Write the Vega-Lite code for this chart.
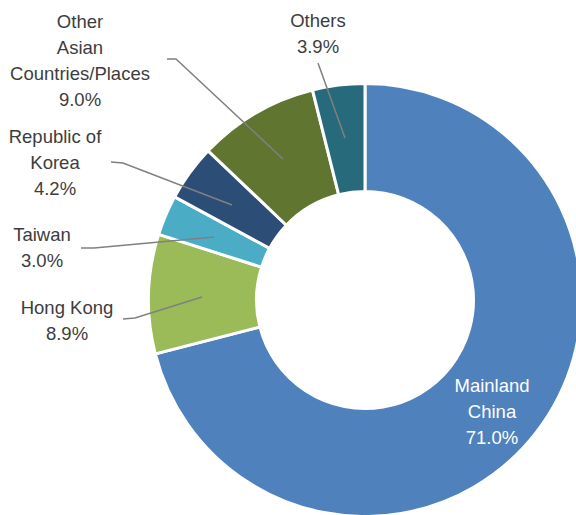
{
  "$schema": "https://vega.github.io/schema/vega-lite/v6.json",
  "width": 576,
  "height": 515,
  "autosize": {"type": "none"},
  "padding": 0,
  "background": "white",
  "config": {"view": {"stroke": null}, "font": "Liberation Sans"},
  "datasets": {
    "slices": [
      {"name": "Mainland China", "value": 71.0, "order": 1, "label": "Mainland\nChina\n71.0%", "lx": 127, "ly": -86},
      {"name": "Hong Kong", "value": 8.9, "order": 2, "label": "Hong Kong\n8.9%", "lx": -298, "ly": -8},
      {"name": "Taiwan", "value": 3.0, "order": 3, "label": "Taiwan\n3.0%", "lx": -323, "ly": 65},
      {"name": "Republic of Korea", "value": 4.2, "order": 4, "label": "Republic of\nKorea\n4.2%", "lx": -310, "ly": 163},
      {"name": "Other Asian Countries/Places", "value": 9.0, "order": 5, "label": "Other\nAsian\nCountries/Places\n9.0%", "lx": -285, "ly": 278},
      {"name": "Others", "value": 3.9, "order": 6, "label": "Others\n3.9%", "lx": -47, "ly": 279}
    ],
    "leaders": [
      {"id": "Others", "seq": 1, "x": -47, "y": 237},
      {"id": "Others", "seq": 2, "x": -20, "y": 162},
      {"id": "Other Asian", "seq": 1, "x": -198, "y": 241},
      {"id": "Other Asian", "seq": 2, "x": -189, "y": 241},
      {"id": "Other Asian", "seq": 3, "x": -82, "y": 141},
      {"id": "Korea", "seq": 1, "x": -254, "y": 138},
      {"id": "Korea", "seq": 2, "x": -242, "y": 137},
      {"id": "Korea", "seq": 3, "x": -133, "y": 95},
      {"id": "Taiwan", "seq": 1, "x": -284, "y": 52},
      {"id": "Taiwan", "seq": 2, "x": -271, "y": 52},
      {"id": "Taiwan", "seq": 3, "x": -151, "y": 63},
      {"id": "Hong Kong", "seq": 1, "x": -242, "y": -19},
      {"id": "Hong Kong", "seq": 2, "x": -230, "y": -18},
      {"id": "Hong Kong", "seq": 3, "x": -163, "y": 3}
    ]
  },
  "layer": [
    {
      "data": {"name": "slices"},
      "mark": {"type": "arc", "outerRadius": 216.5, "innerRadius": 108.5, "stroke": "white", "strokeWidth": 3},
      "encoding": {
        "x": {"datum": 0, "type": "quantitative", "scale": {"domain": [-365, 211], "nice": false, "zero": false}, "axis": null},
        "y": {"datum": 0, "type": "quantitative", "scale": {"domain": [-215, 300], "nice": false, "zero": false}, "axis": null},
        "theta": {"field": "value", "type": "quantitative", "stack": true},
        "order": {"field": "order", "type": "quantitative"},
        "color": {
          "field": "name",
          "type": "nominal",
          "scale": {
            "domain": ["Mainland China", "Hong Kong", "Taiwan", "Republic of Korea", "Other Asian Countries/Places", "Others"],
            "range": ["#4F81BD", "#9BBB59", "#4BACC6", "#2C4D75", "#5F7530", "#276A7C"]
          },
          "legend": null
        }
      }
    },
    {
      "data": {"name": "leaders"},
      "mark": {"type": "line", "color": "#808080", "strokeWidth": 1.5},
      "encoding": {
        "x": {"field": "x", "type": "quantitative", "scale": {"domain": [-365, 211], "nice": false, "zero": false}, "axis": null},
        "y": {"field": "y", "type": "quantitative", "scale": {"domain": [-215, 300], "nice": false, "zero": false}, "axis": null},
        "detail": {"field": "id", "type": "nominal"},
        "order": {"field": "seq", "type": "quantitative"}
      }
    },
    {
      "data": {"name": "slices"},
      "mark": {"type": "text", "align": "center", "baseline": "middle", "lineBreak": "\n", "fontSize": 18.5, "lineHeight": 26},
      "encoding": {
        "x": {"field": "lx", "type": "quantitative", "scale": {"domain": [-365, 211], "nice": false, "zero": false}, "axis": null},
        "y": {"field": "ly", "type": "quantitative", "scale": {"domain": [-215, 300], "nice": false, "zero": false}, "axis": null},
        "text": {"field": "label", "type": "nominal"},
        "color": {
          "condition": {"test": "datum.name === 'Mainland China'", "value": "white"},
          "value": "#3d3d3d"
        }
      }
    }
  ]
}
